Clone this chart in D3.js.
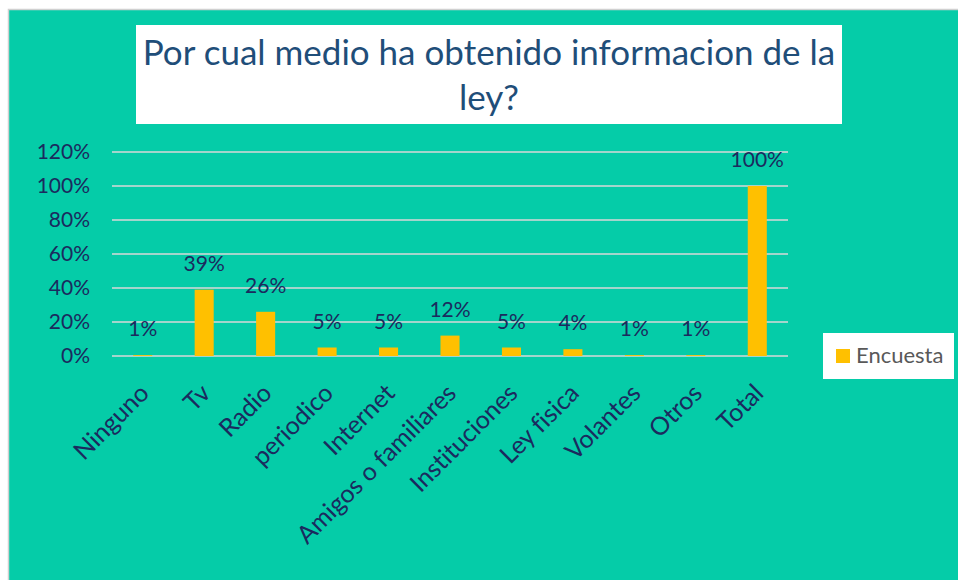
<!DOCTYPE html>
<html>
<head>
<meta charset="utf-8">
<script src="https://cdn.jsdelivr.net/npm/d3@7"></script>
<style>
  body { margin: 0; background: #fff; }
  svg { display: block; font-family: Lato, "Open Sans", sans-serif; font-variant-ligatures: none; }
</style>
</head>
<body>
<div id="chart"></div>
<script>
// Chart data
const categories = ["Ninguno", "Tv", "Radio", "periodico", "Internet", "Amigos o familiares",
  "Instituciones", "Ley fisica", "Volantes", "Otros", "Total"];
const values = [0.005, 0.39, 0.26, 0.05, 0.05, 0.12, 0.05, 0.04, 0.005, 0.005, 1.0];
const valueLabels = ["1%", "39%", "26%", "5%", "5%", "12%", "5%", "4%", "1%", "1%", "100%"];
const yTicks = [0, 0.2, 0.4, 0.6, 0.8, 1.0, 1.2];
const titleLines = ["Por cual medio ha obtenido informacion de la", "ley?"];
const seriesName = "Encuesta";

const W = 958, H = 580;
const teal = "#05CCA8";
const barColor = "#FFC000";
const labelColor = "#1B2A5E";

const svg = d3.select("#chart").append("svg")
  .attr("width", W)
  .attr("height", H);

// Outer chart area (slightly offset, with grey edge)
svg.append("rect")
  .attr("x", 8.5).attr("y", 9.5)
  .attr("width", W + 10).attr("height", H + 10)
  .attr("fill", teal)
  .attr("stroke", "#d0d0d0")
  .attr("stroke-width", 1.5);

// Title box
svg.append("rect")
  .attr("x", 136).attr("y", 25)
  .attr("width", 706).attr("height", 99)
  .attr("fill", "#fff");

svg.append("g").selectAll("text")
  .data(titleLines)
  .join("text")
  .attr("x", 489)
  .attr("y", (d, i) => 65 + i * 45)
  .attr("text-anchor", "middle")
  .attr("fill", "#1F4E79")
  .style("font-size", "35px")
  .text(d => d);

// Scales
const x = d3.scaleBand()
  .domain(categories)
  .range([112, 788])
  .paddingInner(0.69)
  .paddingOuter(0.345);

const y = d3.scaleLinear()
  .domain([0, 1.2])
  .range([356, 152]);

// Grid lines
svg.append("g").selectAll("line")
  .data(yTicks)
  .join("line")
  .attr("x1", 112).attr("x2", 788)
  .attr("y1", d => y(d)).attr("y2", d => y(d))
  .attr("stroke", "#D9D9D9")
  .attr("stroke-width", 1.5);

// Y axis labels
const yAxis = svg.append("g")
  .attr("transform", "translate(112,0)")
  .call(d3.axisLeft(y).tickValues(yTicks).tickFormat(d3.format(".0%")).tickSize(0).tickPadding(22));
yAxis.select(".domain").remove();
yAxis.selectAll("text")
  .attr("fill", labelColor)
  .style("font-family", "Lato, sans-serif")
  .style("font-size", "21px");

// Bars
svg.append("g").selectAll("rect")
  .data(values)
  .join("rect")
  .attr("x", (d, i) => x(categories[i]))
  .attr("y", d => y(d))
  .attr("width", x.bandwidth())
  .attr("height", d => y(0) - y(d))
  .attr("fill", barColor);

// Value labels
svg.append("g").selectAll("text")
  .data(values)
  .join("text")
  .attr("x", (d, i) => x(categories[i]) + x.bandwidth() / 2)
  .attr("y", d => y(d) - 19)
  .attr("text-anchor", "middle")
  .attr("fill", labelColor)
  .style("font-size", "21px")
  .text((d, i) => valueLabels[i]);

// Category labels rotated
const xAxis = svg.append("g")
  .attr("transform", `translate(0,${y(0)})`)
  .call(d3.axisBottom(x).tickSize(0).tickPadding(0));
xAxis.select(".domain").remove();
xAxis.selectAll("text")
  .attr("fill", labelColor)
  .style("font-family", "Lato, sans-serif")
  .style("font-size", "25px")
  .attr("text-anchor", "end")
  .attr("y", 0)
  .attr("dy", "0.72em")
  .attr("transform", "translate(-5,26) rotate(-45)");

// Legend
const legend = svg.append("g").attr("transform", "translate(823,333)");
legend.append("rect")
  .attr("width", 131).attr("height", 46)
  .attr("fill", "#fff");
legend.append("rect")
  .attr("x", 13).attr("y", 16)
  .attr("width", 14).attr("height", 14)
  .attr("fill", barColor);
legend.append("text")
  .attr("x", 33).attr("y", 30)
  .attr("fill", "#595959")
  .style("font-size", "22px")
  .text(seriesName);
</script>
</body>
</html>
